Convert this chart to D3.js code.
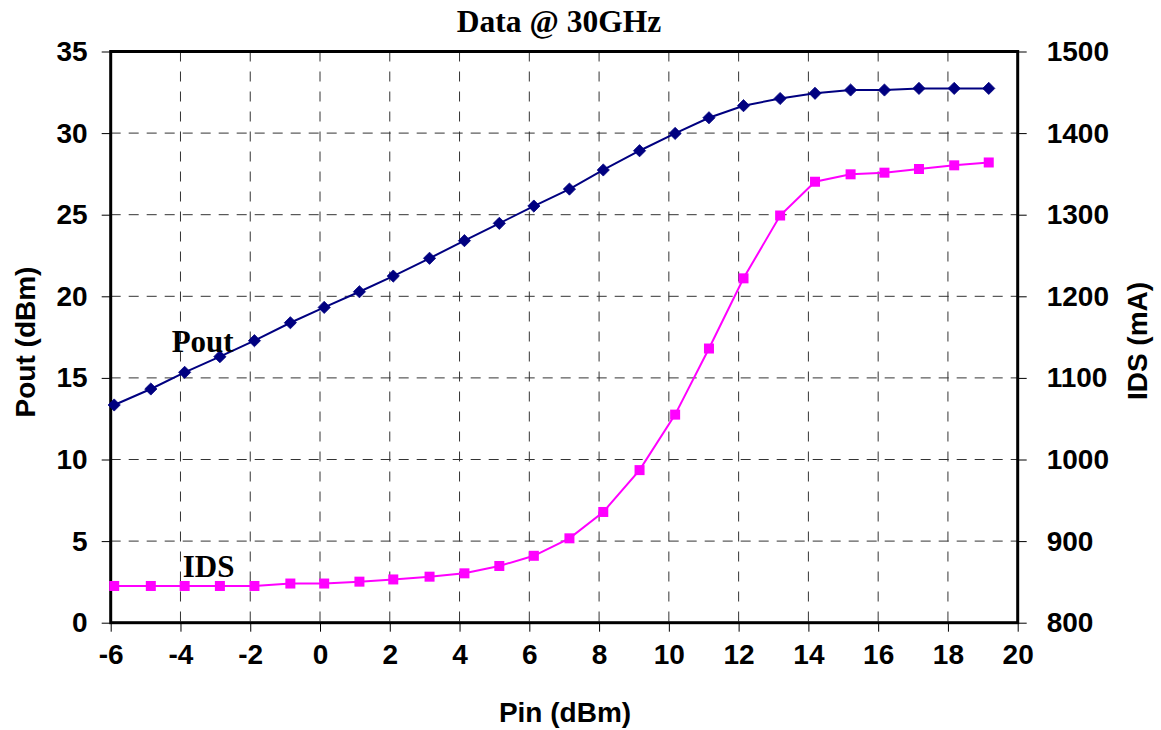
<!DOCTYPE html>
<html><head><meta charset="utf-8">
<script src="https://cdn.jsdelivr.net/npm/d3@7/dist/d3.min.js"></script>
<style>body{margin:0;background:#fff}svg{display:block}</style>
</head><body>
<svg id="chart" width="1161" height="730"></svg>
<script>
const pin = [-5.9, -4.85, -3.88, -2.87, -1.88, -0.85, 0.12, 1.13, 2.1, 3.14, 4.14, 5.14, 6.13, 7.15, 8.12, 9.16, 10.18, 11.15, 12.14, 13.19, 14.19, 15.21, 16.18, 17.17, 18.18, 19.17];
const pout = [13.34, 14.32, 15.34, 16.3, 17.28, 18.38, 19.32, 20.28, 21.24, 22.33, 23.41, 24.47, 25.53, 26.57, 27.74, 28.92, 29.98, 30.94, 31.68, 32.12, 32.44, 32.64, 32.64, 32.74, 32.74, 32.74];
const ids = [845, 845, 845, 845, 845, 848, 848, 850.3, 853, 856.4, 860.5, 869.5, 882, 903.4, 935.7, 987, 1055, 1136, 1222, 1299, 1340.4, 1349.5, 1351.5, 1356, 1360.5, 1364];
const xTicks = [-6, -4, -2, 0, 2, 4, 6, 8, 10, 12, 14, 16, 18, 20];
const yLeftTicks = [0, 5, 10, 15, 20, 25, 30, 35];
const yRightTicks = [800, 900, 1000, 1100, 1200, 1300, 1400, 1500];

const L = 110.7, R = 1017.7, T = 51.5, B = 622.7;
const svg = d3.select("#chart");
const x = d3.scaleLinear().domain([-6, 20]).range([L, R]);
const yL = d3.scaleLinear().domain([0, 35]).range([B, T]);
const yR = d3.scaleLinear().domain([800, 1500]).range([B, T]);

const tickFont = "'Liberation Sans', Arial, sans-serif";
const serif = "'Liberation Serif', 'Times New Roman', serif";

// grid
const grid = svg.append("g");
grid.selectAll(".vg").data(xTicks.filter(d => d > -6 && d < 20)).enter().append("line")
  .attr("x1", d => x(d)).attr("x2", d => x(d)).attr("y1", T).attr("y2", B)
  .attr("stroke", "#333").attr("stroke-width", 1).attr("stroke-dasharray", "10,10");
grid.selectAll(".hg").data(yLeftTicks.filter(d => d > 0 && d < 35)).enter().append("line")
  .attr("x1", L).attr("x2", R).attr("y1", d => yL(d)).attr("y2", d => yL(d))
  .attr("stroke", "#333").attr("stroke-width", 1).attr("stroke-dasharray", "10,8");

// axes
function styleAxis(g) {
  g.select(".domain").remove();
  g.selectAll(".tick line").attr("stroke", "#000").attr("stroke-width", 1);
  g.selectAll(".tick text").attr("font-family", tickFont).attr("font-weight", "bold")
    .attr("font-size", 28).attr("fill", "#000");
}
const fmt = d => String(d);
const xAxis = svg.append("g").attr("transform", `translate(0,${B})`)
  .call(d3.axisBottom(x).tickValues(xTicks).tickSize(9).tickPadding(12).tickFormat(fmt));
styleAxis(xAxis);
const yAxisL = svg.append("g").attr("transform", `translate(${L},0)`)
  .call(d3.axisLeft(yL).tickValues(yLeftTicks).tickSize(9).tickPadding(14).tickFormat(fmt));
styleAxis(yAxisL);
const yAxisR = svg.append("g").attr("transform", `translate(${R},0)`)
  .call(d3.axisRight(yR).tickValues(yRightTicks).tickSize(9).tickPadding(20).tickFormat(fmt));
styleAxis(yAxisR);

// frame
svg.append("rect").attr("x", L).attr("y", T).attr("width", R - L).attr("height", B - T)
  .attr("fill", "none").attr("stroke", "#000").attr("stroke-width", 3);

// series
const poutLine = d3.line().x((d, i) => x(pin[i])).y(d => yL(d));
svg.append("path").datum(pout).attr("d", poutLine).attr("fill", "none")
  .attr("stroke", "#000080").attr("stroke-width", 2);
const idsLine = d3.line().x((d, i) => x(pin[i])).y(d => yR(d));
svg.append("path").datum(ids).attr("d", idsLine).attr("fill", "none")
  .attr("stroke", "#FF00FF").attr("stroke-width", 2);

const diamond = d3.symbol().type(d3.symbolDiamond2).size(95);
svg.selectAll(".pm").data(pout).enter().append("path")
  .attr("d", diamond).attr("fill", "#000080").attr("stroke", "#000080").attr("stroke-width", 0.8)
  .attr("transform", (d, i) => `translate(${x(pin[i])},${yL(d)})`);
svg.selectAll(".im").data(ids).enter().append("rect")
  .attr("x", (d, i) => x(pin[i]) - 5).attr("y", d => yR(d) - 5)
  .attr("width", 10).attr("height", 10).attr("fill", "#FF00FF");

// titles
svg.append("text").attr("x", 559).attr("y", 32).attr("text-anchor", "middle")
  .attr("font-family", serif).attr("font-weight", "bold").attr("font-size", 31.5).text("Data @ 30GHz");
svg.append("text").attr("x", 565).attr("y", 722).attr("text-anchor", "middle")
  .attr("font-family", tickFont).attr("font-weight", "bold").attr("font-size", 28).text("Pin (dBm)");
svg.append("text").attr("transform", "translate(35,342) rotate(-90)").attr("text-anchor", "middle")
  .attr("font-family", tickFont).attr("font-weight", "bold").attr("font-size", 28).text("Pout (dBm)");
svg.append("text").attr("transform", "translate(1147,341) rotate(-90)").attr("text-anchor", "middle")
  .attr("font-family", tickFont).attr("font-weight", "bold").attr("font-size", 28).text("IDS (mA)");

// series labels
svg.append("text").attr("x", 171.7).attr("y", 351.7)
  .attr("font-family", serif).attr("font-weight", "bold").attr("font-size", 31).text("Pout");
svg.append("text").attr("x", 182.7).attr("y", 576.7)
  .attr("font-family", serif).attr("font-weight", "bold").attr("font-size", 31).text("IDS");
</script>
</body></html>
